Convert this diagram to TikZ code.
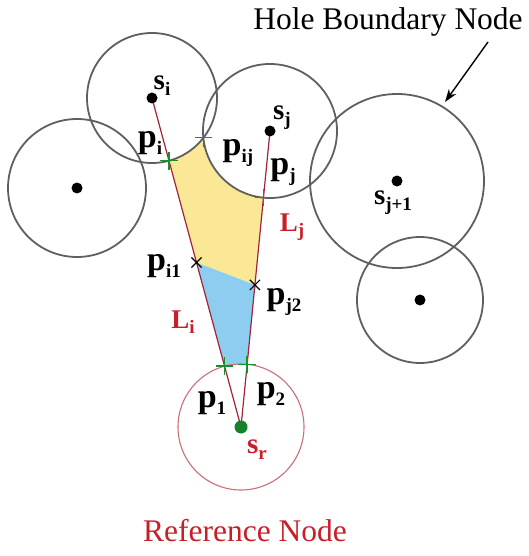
\documentclass[tikz,border=0pt]{standalone}
\usepackage{fontspec}
\setmainfont{Liberation Serif}
\usetikzlibrary{calc,shapes.misc,arrows.meta}
\definecolor{ringgray}{RGB}{95,95,95}
\definecolor{refred}{RGB}{205,110,120}
\definecolor{linered}{RGB}{165,35,55}
\definecolor{yel}{RGB}{250,232,150}
\definecolor{blu}{RGB}{140,205,240}
\definecolor{crossgreen}{RGB}{30,140,40}
\definecolor{labred}{RGB}{200,30,40}
\definecolor{dotgreen}{RGB}{20,130,40}
\newcommand\sub[2]{#1\raisebox{-0.2em}{\fontsize{19}{19}\selectfont #2}}
\begin{document}
\begin{tikzpicture}[x=1pt,y=-1pt,
 ring/.style={draw=ringgray,line width=1.8pt},
 refring/.style={draw=refred,line width=1.1pt},
 conn/.style={draw=linered,line width=1.2pt},
 dot/.style={circle,fill=black,inner sep=0pt,minimum size=11pt},
 gdot/.style={circle,fill=dotgreen,inner sep=0pt,minimum size=13pt},
 gcross/.style={cross out,draw=crossgreen,line width=1.4pt,minimum size=11pt,inner sep=0pt,rotate=45},
 kcross/.style={cross out,draw=black,line width=1.1pt,minimum size=9pt,inner sep=0pt},
 plab/.style={font=\fontsize{34}{34}\selectfont\bfseries,inner sep=0pt},
 slab/.style={font=\fontsize{29}{29}\selectfont\bfseries,inner sep=0pt},
 llab/.style={font=\fontsize{27}{27}\selectfont\bfseries,text=labred,inner sep=0pt},
 caption/.style={font=\fontsize{31.5}{31.5}\selectfont,inner sep=0pt}]
\useasboundingbox (0,0) rectangle (529,556);
% centres
\coordinate (si) at (152,98);
\coordinate (sj) at (270,131);
\coordinate (sr) at (241,427);
\coordinate (c3) at (77,188);
\coordinate (sj1) at (397,181);
\coordinate (c5) at (420,300);
% derived points
\coordinate (pi) at ($(si)!65pt!(sr)$);
\coordinate (pj) at ($(sj)!67pt!(sr)$);
\coordinate (p1) at ($(sr)!63pt!(si)$);
\coordinate (p2) at ($(sr)!63pt!(sj)$);
\coordinate (pij) at (203.4,137.8);
\coordinate (pi1) at ($(si)!0.5!(sr)$);
\coordinate (pj2) at ($(sj)!0.52!(sr)$);
% fills
\fill[yel] (si) -- (sj) -- (pj2) -- (pi1) -- cycle;
\fill[blu] (pi1) -- (pj2) -- (sr) -- cycle;
\fill[white] (si) circle (65pt) (sj) circle (67pt) (sr) circle (63pt);
% rings
\draw[ring] (si) circle (65pt);
\draw[ring] (sj) circle (67pt);
\draw[ring] (c3) circle (69pt);
\draw[ring] (sj1) circle (87pt);
\draw[ring] (c5) circle (63pt);
\draw[refring] (sr) circle (63pt);
% connectors
\draw[conn] (si) -- (sr);
\draw[conn] (sj) -- (sr);
% dots
\node[dot] (dsi) at (si) {};
\node[dot] (dsj) at (sj) {};
\node[dot] (dc3) at (c3) {};
\node[dot] (dsj1) at (sj1) {};
\node[dot] (dc5) at (c5) {};
\node[gdot] (dsr) at (sr) {};
% crosses
\node[gcross] (xpi) at (pi) {};
\node[gcross] (xpj) at (pj) {};
\node[gcross] (xpij) at (pij) {};
\node[gcross] (xp1) at (p1) {};
\node[gcross] (xp2) at (p2) {};
\node[kcross] (xpi1) at (pi1) {};
\node[kcross] (xpj2) at (pj2) {};
% labels
\node[slab] (lsi) at (162,86) {\sub{s}{i}};
\node[slab] (lsj) at (282,118) {\sub{s}{j}};
\node[slab] (lsj1) at (393,203) {\sub{s}{j+1}};
\node[plab] (lpi) at (150,143) {\sub{p}{i}};
\node[plab] (lpij) at (238,153) {\sub{p}{ij}};
\node[plab] (lpj) at (283,172) {\sub{p}{j}};
\node[plab] (lpi1) at (164,266) {\sub{p}{i1}};
\node[plab] (lpj2) at (284,302) {\sub{p}{j2}};
\node[plab] (lp1) at (212,403) {\sub{p}{1}};
\node[plab] (lp2) at (271,394) {\sub{p}{2}};
\node[llab] (lLj) at (292,227) {\sub{L}{j}};
\node[llab] (lLi) at (183,322) {\sub{L}{i}};
\node[slab,text=labred] (lsr) at (257,450) {\sub{s}{r}};
\node[caption] (hbn) at (388,22) {Hole Boundary Node};
\node[caption,text=labred] (refn) at (245,531) {Reference Node};
% arrow
\coordinate (atail) at (488,42);
\coordinate (ahead) at (445,102);
\draw[line width=1.4pt,-{Stealth[length=13pt,width=9pt]}] (atail) -- (ahead);
\end{tikzpicture}
\end{document}
